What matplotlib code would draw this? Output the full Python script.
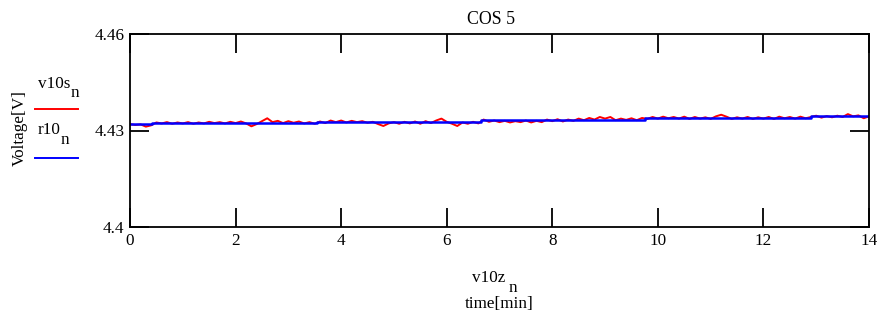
import matplotlib
matplotlib.use("Agg")
import matplotlib.pyplot as plt

plt.rcParams['font.family'] = ['Liberation Serif', 'DejaVu Serif']

# red measured series, one sample every 0.1 min
v10z = [i / 10 for i in range(141)]
v10s = [
    4.4320, 4.4317, 4.4319, 4.4312, 4.4316, 4.4325, 4.4322, 4.4326, 4.4321, 4.4325,
    4.4322, 4.4326, 4.4321, 4.4325, 4.4322, 4.4327, 4.4323, 4.4326, 4.4322, 4.4327,
    4.4323, 4.4328, 4.4322, 4.4313, 4.4320, 4.4329, 4.4338, 4.4326, 4.4330, 4.4323,
    4.4329, 4.4324, 4.4328, 4.4322, 4.4326, 4.4321, 4.4328, 4.4323, 4.4331, 4.4326,
    4.4331, 4.4325, 4.4330, 4.4326, 4.4329, 4.4324, 4.4327, 4.4320, 4.4314, 4.4322,
    4.4326, 4.4321, 4.4327, 4.4322, 4.4328, 4.4321, 4.4329, 4.4323, 4.4331, 4.4337,
    4.4327, 4.4321, 4.4314, 4.4325, 4.4321, 4.4327, 4.4322, 4.4334, 4.4327, 4.4331,
    4.4326, 4.4330, 4.4325, 4.4329, 4.4326, 4.4331, 4.4325, 4.4330, 4.4326, 4.4334,
    4.4329, 4.4335, 4.4328, 4.4334, 4.4330, 4.4337, 4.4332, 4.4339, 4.4334, 4.4342,
    4.4337, 4.4342, 4.4332, 4.4337, 4.4333, 4.4338, 4.4332, 4.4339, 4.4336, 4.4342,
    4.4337, 4.4343, 4.4338, 4.4342, 4.4337, 4.4343, 4.4336, 4.4342, 4.4337, 4.4341,
    4.4336, 4.4344, 4.4349, 4.4343, 4.4336, 4.4341, 4.4337, 4.4342, 4.4336, 4.4341,
    4.4337, 4.4342, 4.4336, 4.4343, 4.4338, 4.4342, 4.4337, 4.4343, 4.4338, 4.4342,
    4.4346, 4.4340, 4.4345, 4.4341, 4.4346, 4.4342, 4.4351, 4.4344, 4.4347, 4.4338,
    4.4344,
]

# blue step fit
r10_t = [0.0, 0.42, 3.55, 6.65, 9.75, 12.9, 14.0]
r10_v = [4.4319, 4.4322, 4.4326, 4.4333, 4.4338, 4.4345, 4.4345]

x_ticks = [0, 2, 4, 6, 8, 10, 12, 14]
y_ticks = [4.4, 4.43, 4.46]
y_labels = ['4.4', '4.43', '4.46']

W, H = 884, 321
fig = plt.figure(figsize=(W / 100, H / 100), dpi=100)
ax = fig.add_axes([130 / W, 1 - 227 / H, (869 - 130) / W, (227 - 34) / H])

ax.plot(v10z, v10s, color='#ff0000', lw=1.4)
ax.plot(r10_t, r10_v, color='#0000ff', lw=1.8, drawstyle='steps-post')

ax.set_xlim(0, 14)
ax.set_ylim(4.4, 4.46)
ax.set_xticks(x_ticks)
ax.set_yticks(y_ticks)
ax.set_yticklabels(y_labels)
ax.tick_params(axis='both', direction='in', length=14, width=1.3,
               top=True, right=True, labelsize=12.3, pad=4)
for s in ax.spines.values():
    s.set_linewidth(1.3)

def px(x, y, s, size=12.3, **kw):
    fig.text(x / W, 1 - y / H, s, fontsize=size, **kw)

px(491, 19, 'COS 5', size=12.8, ha='center', va='center')

# legend block on the left
px(38, 88, 'v10s', ha='left', va='baseline')
px(71, 97, 'n', ha='left', va='baseline')
fig.add_artist(plt.Line2D([35 / W, 78 / W], [1 - 109 / H, 1 - 109 / H],
                          color='#ff0000', lw=1.4))
px(38, 134, 'r10', ha='left', va='baseline')
px(61, 144, 'n', ha='left', va='baseline')
fig.add_artist(plt.Line2D([35 / W, 78 / W], [1 - 158 / H, 1 - 158 / H],
                          color='#0000ff', lw=1.4))
px(20, 128, 'Voltage[V]', ha='center', va='center', rotation=90)

# x axis labels
px(489, 282, 'v10z', ha='center', va='baseline')
px(513, 292, 'n', ha='center', va='baseline')
px(499, 304, 'time[min]', ha='center', va='center')

fig.savefig('out.png', dpi=100)
